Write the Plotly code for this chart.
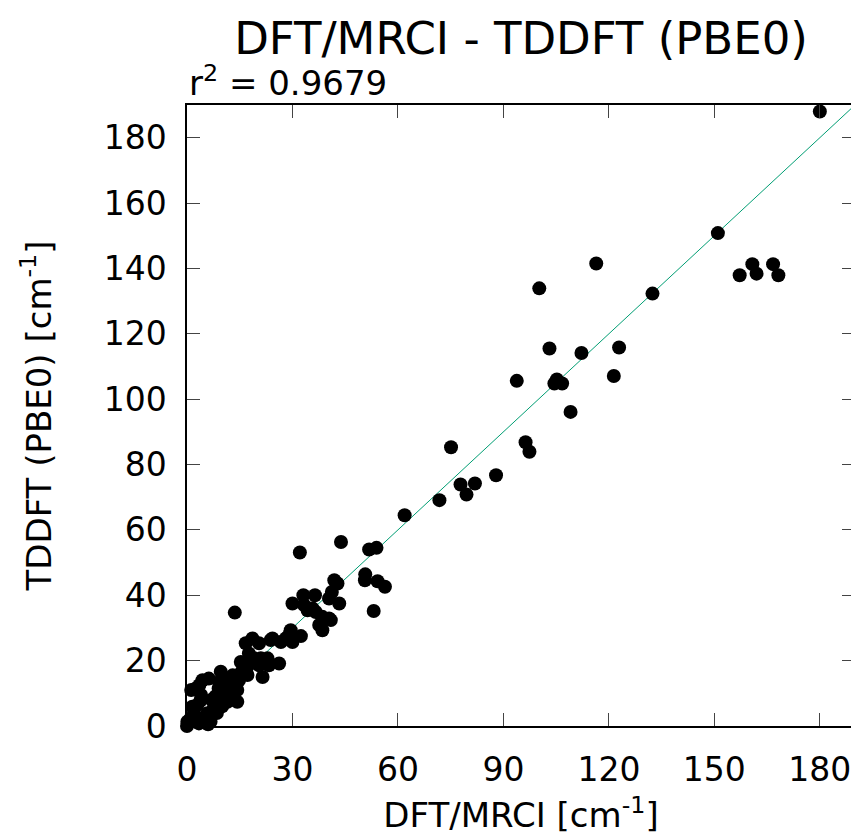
import plotly.graph_objects as go

# DFT/MRCI (x) vs TDDFT PBE0 (y), cm^-1
x_mrci = [180, 151, 157.2, 160.8, 162.0, 166.7, 168.2,
          132.4, 116.4, 100.2,
          103.1, 112.2, 122.9, 121.4, 93.8, 105.2, 104.5, 106.7, 109.1,
          96.3, 97.4, 75.1, 87.9, 77.8, 81.9, 79.5, 71.8, 61.9,
          43.8, 32.1, 51.8, 53.9, 50.7, 50.6, 54.2, 56.3, 53.1,
          41.9, 42.8, 41.2, 43.3, 40.4, 33.1, 36.4, 30.0, 33.3, 35.7, 34.3, 36.6, 38.5,
          40.4, 40.9, 37.6, 38.5, 29.5, 32.4, 29.0, 28.1, 24.3, 26.7, 30.0,
          13.6,
          18.6, 16.7, 20.5, 23.8, 17.6, 15.3, 19.1, 21.0, 22.9, 26.2, 23.3, 20.5, 21.5,
          17.2, 9.6, 4.4, 2.5, 9.1, 11.9, 14.8, 17.2, 14.3, 11.9, 10.1, 14.3, 11.5,
          3.9, 1.5, 7.7, 5.8, 4.4, 0.0, 1.0, 6.7, 3.4, 0.1,
          1.2, 6.0, 8.0, 12.0, 13.0, 8.5, 10.0, 12.5, 2.0, 3.0, 7.0, 9.0, 15.5, 13.5,
          6.2, 3.5, 9.5, 4.0]
y_pbe0 = [188, 150.8, 137.9, 141.3, 138.4, 141.3, 137.9,
          132.3, 141.5, 133.9,
          115.5, 114.1, 115.8, 107.1, 105.6, 106.0, 104.8, 104.8, 96.1,
          86.8, 83.9, 85.3, 76.7, 73.9, 74.2, 70.8, 69.1, 64.5,
          56.3, 53.1, 54.0, 54.5, 46.4, 44.6, 44.3, 42.6, 35.2,
          44.6, 43.6, 41.0, 37.5, 39.0, 40.0, 40.0, 37.5, 37.0, 36.0, 35.4, 34.9, 33.4,
          32.9, 32.4, 30.9, 29.3, 29.3, 27.5, 27.8, 26.8, 26.8, 25.7, 25.7,
          34.7,
          26.8, 25.3, 25.3, 26.3, 22.2, 19.6, 20.7, 20.7, 20.7, 19.1, 18.6, 18.6, 15.0,
          18.1, 16.6, 14.0, 11.5, 13.5, 14.6, 14.0, 15.6, 11.0, 10.5, 8.9, 7.4, 7.4,
          7.9, 5.9, 5.9, 3.9, 2.3, 0.0, 2.3, 1.3, 0.8, 1.3,
          11.0, 0.5, 9.0, 12.0, 15.5, 4.0, 6.0, 9.0, 4.0, 6.5, 8.0, 11.5, 16.5, 12.5,
          14.5, 12.5, 10.5, 9.5]

x_ticks = [0, 30, 60, 90, 120, 150, 180]
y_ticks = [0, 20, 40, 60, 80, 100, 120, 140, 160, 180]
axis_range = [0, 190]
r2_text = "r<sup>2</sup> = 0.9679"

FONT = "DejaVu Sans"

fig = go.Figure()
fig.add_trace(go.Scatter(
    x=axis_range, y=axis_range, mode="lines",
    line=dict(color="#009e73", width=1), hoverinfo="skip", showlegend=False))
fig.add_trace(go.Scatter(
    x=x_mrci, y=y_pbe0, mode="markers",
    marker=dict(color="black", size=14, line=dict(width=0)),
    cliponaxis=False, showlegend=False))

axis_common = dict(
    range=axis_range, showgrid=False, zeroline=False,
    showline=True, linecolor="black", linewidth=1.5, mirror="ticks",
    ticks="inside", ticklen=13, tickwidth=1.2, tickcolor="#444",
    tickfont=dict(family=FONT, size=33, color="black"),
    title_font=dict(family=FONT, size=34, color="black"),
    automargin=False,
)

fig.update_layout(
    width=851, height=827,
    margin=dict(l=179, r=4, t=97, b=109),
    paper_bgcolor="white", plot_bgcolor="white",
    font=dict(family=FONT, color="black"),
    title=dict(text="DFT/MRCI - TDDFT (PBE0)", x=0.5, xref="paper",
               y=0.9637, yref="container", xanchor="center", yanchor="middle",
               font=dict(family=FONT, size=45, color="black")),
    xaxis=dict(axis_common, tickvals=x_ticks, title=dict(text="DFT/MRCI [cm<sup>-1</sup>]", standoff=22),
               ticklabelstandoff=14),
    yaxis=dict(axis_common, tickvals=y_ticks, title=dict(text="TDDFT (PBE0) [cm<sup>-1</sup>]", standoff=42),
               ticklabelstandoff=12),
    annotations=[dict(text=r2_text, xref="paper", yref="paper", x=0, y=1.0,
                      xanchor="left", yanchor="bottom", showarrow=False,
                      font=dict(family=FONT, size=34, color="black"))],
)

fig.write_html("out.html")
